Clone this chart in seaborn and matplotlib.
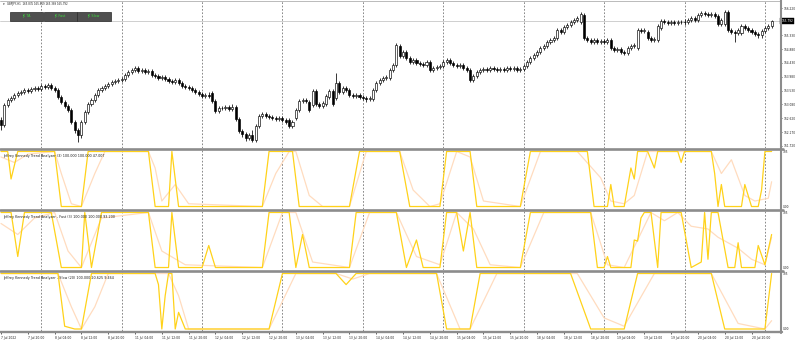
import numpy as np
import pandas as pd
import matplotlib
matplotlib.use("Agg")
import matplotlib.pyplot as plt
import matplotlib.transforms as mtrans
from matplotlib.lines import Line2D
from matplotlib.patches import Rectangle
import seaborn as sns

sns.set_theme(style="white")
plt.rcParams['font.family'] = ['DejaVu Sans']

# ---------------- data ----------------
header_text = "GBPJPY,H1  165.835 165.819 165.389 165.792"
buttons = ["JK TA", "JK Fast", "JK Slow"]
pane_titles = [
    "Jeffrey Kennedy Trend Analyzer (3) 100.000 100.000 47.007",
    "Jeffrey Kennedy Trend Analyzer - Fast (3) 100.000 100.000 93.200",
    "Jeffrey Kennedy Trend Analyzer - Slow (20) 100.000 20.625 9.464",
]
price_ticks = [166.220, 165.330, 164.880, 164.430, 163.980, 163.530, 163.080, 162.620, 162.170, 161.720]
last_price = 165.792
ind_top_label = "105"
ind_bottom_label = "0.00"

opens = [162.57,162.40,163.06,163.22,163.29,163.38,163.45,163.48,163.55,163.51,163.58,163.61,
         163.58,163.68,163.65,163.71,163.61,163.55,163.32,163.15,163.02,162.89,162.50,162.23,
         162.07,162.50,162.83,163.09,163.22,163.38,163.55,163.61,163.68,163.74,163.81,163.84,
         163.87,163.91,164.04,164.14,164.20,164.27,164.17,164.20,164.14,164.17,164.04,164.01,
         163.94,163.97,163.91,163.84,163.81,163.87,163.78,163.68,163.65,163.61,163.55,163.48,
         163.42,163.35,163.38,163.45,163.19,162.86,162.96,162.96,162.99,162.93,162.99,162.60,
         162.20,162.11,161.98,162.07,161.91,162.37,162.70,162.76,162.70,162.66,162.63,162.60,
         162.63,162.57,162.57,162.37,162.63,162.89,163.19,163.22,163.15,163.06,163.51,163.09,
         163.02,163.09,163.32,163.51,163.29,163.78,163.48,163.61,163.55,163.38,163.35,163.38,
         163.32,163.29,163.25,163.25,163.55,163.78,163.87,163.94,163.94,164.20,164.37,164.99,
         164.66,164.79,164.59,164.46,164.53,164.43,164.40,164.37,164.46,164.20,164.27,164.30,
         164.33,164.46,164.53,164.43,164.37,164.33,164.37,164.27,164.20,163.87,164.01,164.14,
         164.20,164.23,164.20,164.27,164.23,164.20,164.23,164.20,164.27,164.23,164.27,164.20,
         164.23,164.33,164.46,164.59,164.69,164.79,164.92,164.99,165.12,165.18,165.25,165.51,
         165.44,165.61,165.67,165.77,165.84,165.77,166.00,165.25,165.18,165.12,165.18,165.12,
         165.15,165.12,165.18,164.92,164.86,164.89,164.79,164.76,164.92,164.99,164.92,165.51,
         165.48,165.44,165.25,165.18,165.18,165.57,165.80,165.77,165.74,165.77,165.74,165.77,
         165.77,165.77,165.84,165.90,165.84,166.00,166.06,166.03,166.00,166.03,165.97,165.71,
         165.71,166.10,165.51,165.44,165.41,165.41,165.64,165.57,165.51,165.44,165.38,165.35,
         165.48,165.57,165.64]
closes = [162.40,163.06,163.22,163.29,163.38,163.45,163.48,163.55,163.51,163.58,163.61,163.58,
          163.68,163.65,163.71,163.61,163.55,163.32,163.15,163.02,162.89,162.50,162.23,162.07,
          162.50,162.83,163.09,163.22,163.38,163.55,163.61,163.68,163.74,163.81,163.84,163.87,
          163.91,164.04,164.14,164.20,164.27,164.17,164.20,164.14,164.17,164.04,164.01,163.94,
          163.97,163.91,163.84,163.81,163.87,163.78,163.68,163.65,163.61,163.55,163.48,163.42,
          163.35,163.38,163.35,163.19,162.86,162.96,162.95,162.99,162.93,162.99,162.60,162.20,
          162.11,161.98,162.07,161.91,162.37,162.70,162.76,162.70,162.66,162.63,162.60,162.63,
          162.57,162.50,162.37,162.50,162.89,163.19,163.22,163.19,162.89,163.51,163.09,163.02,
          163.12,163.35,163.51,163.09,163.78,163.48,163.61,163.55,163.38,163.35,163.38,163.32,
          163.29,163.25,163.29,163.55,163.78,163.87,163.94,163.97,164.20,164.37,165.02,164.66,
          164.79,164.59,164.46,164.53,164.43,164.40,164.37,164.46,164.20,164.27,164.30,164.33,
          164.46,164.53,164.43,164.37,164.33,164.37,164.27,164.20,163.87,164.01,164.14,164.20,
          164.23,164.20,164.27,164.23,164.20,164.23,164.20,164.27,164.23,164.27,164.20,164.23,
          164.33,164.46,164.59,164.69,164.79,164.92,164.99,165.12,165.18,165.25,165.51,165.44,
          165.61,165.67,165.77,165.84,165.90,166.03,165.25,165.18,165.12,165.18,165.12,165.15,
          165.12,165.18,164.92,164.86,164.89,164.79,164.76,164.92,164.99,165.02,165.51,165.48,
          165.51,165.25,165.18,165.21,165.64,165.80,165.77,165.74,165.77,165.74,165.77,165.76,
          165.78,165.84,165.90,165.84,166.00,166.06,166.03,166.00,166.03,165.97,165.71,165.84,
          166.10,165.51,165.44,165.41,165.51,165.64,165.57,165.51,165.44,165.38,165.35,165.48,
          165.57,165.64,165.792]
highs = [162.66,163.12,163.29,163.35,163.45,163.51,163.55,163.61,163.61,163.65,163.68,163.68,
         163.74,163.74,163.78,163.78,163.68,163.61,163.38,163.22,163.09,162.96,162.57,162.30,
         162.57,162.89,163.15,163.29,163.45,163.61,163.68,163.74,163.81,163.87,163.91,163.94,
         163.97,164.10,164.20,164.27,164.33,164.33,164.27,164.27,164.23,164.23,164.10,164.07,
         164.04,164.04,163.97,163.91,163.94,163.94,163.84,163.74,163.71,163.68,163.61,163.55,
         163.48,163.45,163.48,163.51,163.25,163.02,163.02,163.06,163.06,163.09,163.06,162.66,
         162.27,162.17,162.14,162.23,162.44,162.76,162.83,162.83,162.76,162.73,162.70,162.70,
         162.70,162.63,162.63,162.57,162.96,163.25,163.29,163.29,163.22,163.58,163.58,163.15,
         163.19,163.42,163.58,163.58,164.10,163.84,163.68,163.68,163.61,163.45,163.45,163.45,
         163.38,163.35,163.35,163.61,163.84,163.94,164.01,164.04,164.27,164.43,165.08,165.05,
         164.86,164.86,164.66,164.59,164.59,164.50,164.46,164.53,164.53,164.33,164.37,164.40,
         164.53,164.59,164.59,164.50,164.43,164.43,164.43,164.33,164.27,164.07,164.20,164.27,
         164.30,164.30,164.33,164.33,164.30,164.30,164.30,164.33,164.33,164.33,164.33,164.30,
         164.40,164.53,164.66,164.76,164.86,164.99,165.05,165.18,165.25,165.31,165.57,165.57,
         165.67,165.74,165.84,165.90,165.97,166.10,166.06,165.31,165.25,165.25,165.25,165.21,
         165.21,165.25,165.25,164.99,164.95,164.95,164.86,164.99,165.05,165.08,165.57,165.57,
         165.57,165.51,165.31,165.28,165.71,165.87,165.87,165.84,165.84,165.84,165.84,165.84,
         165.87,165.90,165.97,165.97,166.06,166.13,166.13,166.10,166.10,166.10,166.03,165.90,
         166.16,166.16,165.57,165.51,165.57,165.71,165.71,165.64,165.57,165.51,165.44,165.54,
         165.64,165.71,165.84]
lows = [162.24,162.34,162.99,163.15,163.22,163.32,163.38,163.42,163.45,163.45,163.51,163.51,
        163.51,163.58,163.58,163.55,163.48,163.25,163.09,162.96,162.83,162.44,162.14,161.85,
        161.98,162.44,162.76,163.02,163.15,163.32,163.48,163.55,163.61,163.68,163.74,163.78,
        163.81,163.84,163.97,164.07,164.14,164.10,164.10,164.07,164.07,163.97,163.94,163.87,
        163.87,163.84,163.78,163.74,163.74,163.71,163.61,163.58,163.55,163.48,163.42,163.35,
        163.29,163.29,163.29,163.12,162.79,162.79,162.89,162.89,162.86,162.86,162.53,162.14,
        162.01,161.88,161.91,161.85,161.85,162.30,162.63,162.63,162.60,162.57,162.53,162.53,
        162.50,162.44,162.30,162.30,162.57,162.83,163.12,163.12,162.83,162.99,163.02,162.96,
        162.96,163.02,163.25,163.02,163.22,163.42,163.42,163.48,163.32,163.29,163.29,163.25,
        163.22,163.15,163.19,163.19,163.48,163.71,163.81,163.87,163.87,164.14,164.30,164.59,
        164.59,164.53,164.40,164.40,164.37,164.33,164.30,164.30,164.14,164.14,164.20,164.23,
        164.27,164.40,164.37,164.30,164.27,164.27,164.20,164.14,163.81,163.81,163.94,164.07,
        164.14,164.14,164.14,164.17,164.14,164.14,164.14,164.14,164.17,164.17,164.14,164.14,
        164.17,164.27,164.40,164.53,164.63,164.72,164.86,164.92,165.05,165.12,165.18,165.38,
        165.38,165.54,165.61,165.71,165.77,165.71,165.18,165.12,165.05,165.05,165.05,165.05,
        165.05,165.05,164.86,164.79,164.79,164.72,164.69,164.69,164.86,164.92,164.86,165.41,
        165.41,165.18,165.12,165.12,165.12,165.51,165.71,165.67,165.67,165.67,165.67,165.71,
        165.67,165.71,165.77,165.77,165.77,165.93,165.97,165.93,165.93,165.90,165.64,165.64,
        165.64,165.44,165.38,165.12,165.35,165.35,165.51,165.44,165.38,165.31,165.25,165.25,
        165.41,165.51,165.57]

# indicator vertices: (bar index, value 0-100)
ta_main_bar = [0,2,3,5,16,18,24,26,44,46,50,51,53,78,80,87,89,104,107,119,122,131,133,140,142,155,158,
               175,177,181,182,183,186,188,189,190,193,195,196,202,203,204,212,213,214,215,216,221,222,224,
               226,227,228,230]
ta_main_val = [100,100,50,100,100,0,0,100,100,0,0,100,0,0,100,100,0,0,100,100,0,0,100,100,0,0,100,
               100,0,0,40,0,0,70,50,100,100,70,100,100,80,100,100,60,0,40,0,0,40,0,
               0,30,100,100]
ta_sig_bar = [0,4,8,16,18,21,24,28,31,44,46,48,52,56,78,82,86,88,92,96,104,109,119,123,128,131,136,140,144,
              155,161,172,179,182,186,189,193,212,215,218,222,225,229,230]
ta_sig_val = [90,80,95,100,60,5,0,60,100,100,70,10,40,5,0,60,100,100,20,0,0,100,100,30,0,5,100,90,10,
              0,100,100,52,10,5,20,100,100,60,85,20,10,15,45]

fast_main_bar = [0,3,5,7,15,18,24,25,27,30,44,46,50,51,53,60,62,64,78,80,86,88,90,92,104,106,118,121,124,126,
                 131,133,136,138,140,142,155,158,176,178,180,181,182,188,189,190,191,192,194,196,197,203,206,
                 209,210,211,212,214,217,219,220,221,225,226,228,230]
fast_main_val = [100,100,20,100,100,0,0,100,0,100,100,0,0,100,0,0,40,0,0,100,100,0,60,0,0,100,100,0,50,0,
                 0,100,100,30,100,0,0,100,100,0,0,20,0,0,50,48,90,100,100,0,100,100,0,
                 10,100,15,100,100,0,0,45,0,0,40,5,60]
fast_sig_bar = [0,5,10,16,20,24,30,44,48,55,78,84,88,93,104,110,118,124,131,136,141,146,155,162,176,181,186,
                190,194,198,202,206,211,214,220,224,228,230]
fast_sig_val = [80,60,90,100,30,0,90,100,30,5,0,100,100,10,0,100,100,20,5,100,70,5,0,100,100,5,0,
                50,100,85,100,75,70,55,35,15,5,55]

slow_main_bar = [0,17,19,22,24,27,46,47,48,49,50,51,52,53,55,80,84,100,103,106,130,133,140,143,170,176,186,190,
                 212,216,228,230]
slow_main_val = [100,100,5,0,0,100,100,80,0,60,100,100,0,30,0,0,100,100,80,100,100,0,0,100,100,0,0,100,
                 100,0,0,100]
slow_sig_bar = [0,17,21,24,28,32,50,53,56,80,88,100,105,110,130,137,140,148,172,180,186,195,212,220,228,230]
slow_sig_val = [100,100,40,0,40,100,100,60,0,0,100,100,90,100,100,0,0,100,100,20,5,100,100,10,0,15]

# ---------------- layout helpers ----------------
W, H = 800, 342
fig = plt.figure(figsize=(W / 100, H / 100), dpi=100)
fig.patch.set_facecolor("white")
PLOT_R = 780.0


def rect(top, bottom, left=0.0, right=PLOT_R):
    return [left / W, 1 - bottom / H, (right - left) / W, (bottom - top) / H]


def fline(x0, y0, x1, y1, **kw):
    fig.add_artist(Line2D([x0 / W, x1 / W], [1 - y0 / H, 1 - y1 / H],
                          transform=fig.transFigure, **kw))


n = len(closes)
times = []
t = pd.Timestamp("2022-07-07 12:00")
while len(times) < n:
    if t.weekday() < 5:
        times.append(t)
    t += pd.Timedelta(hours=1)
bars = np.arange(n)
sep_bars = [i for i, tt in enumerate(times) if tt.hour == 0]
label_bars = list(range(0, n, 8))
label_text = []
for i in label_bars:
    tt = times[i]
    if i == 0:
        label_text.append(f"{tt.day} {tt.strftime('%b')} {tt.year}")
    else:
        label_text.append(f"{tt.day} {tt.strftime('%b')} {tt.strftime('%H:%M')}")

XL = (-0.3, 232.5)

ax_main = fig.add_axes(rect(1.0, 147.5))
ax_ta = fig.add_axes(rect(149.5, 208.5))
ax_fast = fig.add_axes(rect(210.5, 269.5))
ax_slow = fig.add_axes(rect(271.5, 331.0))
all_axes = [ax_main, ax_ta, ax_fast, ax_slow]

for ax in all_axes:
    ax.set_facecolor("white")
    ax.set_xlim(*XL)
    for s in ax.spines.values():
        s.set_visible(False)
    ax.set_xticks([])
    ax.grid(False)
    for b in sep_bars:
        ax.axvline(b, color="#6a6a6a", lw=0.55, ls=(0, (2.2, 2.2)), zorder=0)

# ---------------- main candle pane ----------------
o = np.array(opens); c = np.array(closes); hi = np.array(highs); lo = np.array(lows)
ax_main.set_ylim(161.667, 166.457)
ax_main.axhline(last_price, color="#c8c8c8", lw=0.6, zorder=1)
ax_main.vlines(bars, lo, hi, color="black", lw=0.55, zorder=2)
up = c >= o
body_b = np.minimum(o, c)
body_h = np.maximum(np.abs(c - o), 0.004)
ax_main.bar(bars[up], body_h[up], bottom=body_b[up], width=0.62, color="white",
            edgecolor="black", linewidth=0.45, zorder=3)
ax_main.bar(bars[~up], body_h[~up], bottom=body_b[~up], width=0.62, color="black",
            edgecolor="black", linewidth=0.45, zorder=3)
ax_main.yaxis.tick_right()
ax_main.set_yticks(price_ticks)
ax_main.set_yticklabels([f"{p:.3f}" for p in price_ticks])
ax_main.tick_params(axis="y", direction="out", length=1.6, width=0.5, pad=1.2,
                    labelsize=2.1, colors="#202020", right=True, left=False)
tr = mtrans.blended_transform_factory(ax_main.transAxes, ax_main.transData)
ax_main.text(1.0015, last_price, f"{last_price:.3f}", transform=tr, fontsize=2.1,
             color="white", va="center", ha="left",
             bbox=dict(boxstyle="square,pad=0.35", fc="black", ec="black", lw=0.3))

# header and buttons
fig.text(3 / W, 1 - 4.2 / H, "\u25be", fontsize=2.4, color="#202020", va="center", ha="left")
fig.text(7 / W, 1 - 4.2 / H, header_text, fontsize=1.9, color="#202020", va="center", ha="left")
bx = [(9.5, 43), (43.5, 76.5), (77, 110.5)]
for (x0, x1), lab in zip(bx, buttons):
    fig.add_artist(Rectangle((x0 / W, 1 - 20.5 / H), (x1 - x0) / W, 8.5 / H,
                             transform=fig.transFigure, fc="#505050", ec="#2a2a2a", lw=0.5))
    fig.text((x0 + x1) / 2 / W, 1 - 16.3 / H, lab, fontsize=2.4, color="#3ddc3d",
             va="center", ha="center")

# ---------------- indicator panes ----------------
ind_specs = [
    (ax_ta, ta_sig_bar, ta_sig_val, ta_main_bar, ta_main_val, pane_titles[0]),
    (ax_fast, fast_sig_bar, fast_sig_val, fast_main_bar, fast_main_val, pane_titles[1]),
    (ax_slow, slow_sig_bar, slow_sig_val, slow_main_bar, slow_main_val, pane_titles[2]),
]
for ax, sb, sv, mb, mv, title in ind_specs:
    ax.set_ylim(-3.6, 103.6)
    ax.set_yticks([])
    sns.lineplot(x=sb, y=sv, ax=ax, color="#ffdcbf", lw=0.9, estimator=None, sort=False, zorder=3)
    sns.lineplot(x=mb, y=mv, ax=ax, color="#ffd21a", lw=0.9, estimator=None, sort=False, zorder=4)
    ax.set_xlabel(""); ax.set_ylabel("")
    ax.text(0.004, 0.93, title, transform=ax.transAxes, fontsize=2.4, color="#202020",
            va="top", ha="left", zorder=6)
    ax.text(1.004, 0.96, ind_top_label, transform=ax.transAxes, fontsize=2.1, color="#202020",
            va="center", ha="left")
    ax.text(1.004, 0.03, ind_bottom_label, transform=ax.transAxes, fontsize=2.1, color="#202020",
            va="center", ha="left")
    ax.set_xlim(*XL)

# time axis labels on the bottom pane
ax_slow.set_xticks(label_bars)
ax_slow.set_xticklabels(label_text, ha="left")
ax_slow.tick_params(axis="x", direction="out", length=1.8, width=0.5, pad=1.5,
                    labelsize=2.2, colors="#202020", bottom=True)
for lab in ax_slow.get_xticklabels():
    lab.set_horizontalalignment("left")

# ---------------- frame / separators ----------------
GR = "#8c8c8c"
fline(0, 0.5, PLOT_R, 0.5, color="#b0b0b0", lw=0.6)
for y in (148.5, 209.5, 270.5):
    fline(0, y, PLOT_R + 3, y, color=GR, lw=1.9)
fline(0, 331.6, PLOT_R + 2, 331.6, color=GR, lw=1.7)
fline(PLOT_R + 0.7, 0, PLOT_R + 0.7, 332.5, color=GR, lw=1.5)

fig.savefig("out.png", dpi=100, facecolor="white")
